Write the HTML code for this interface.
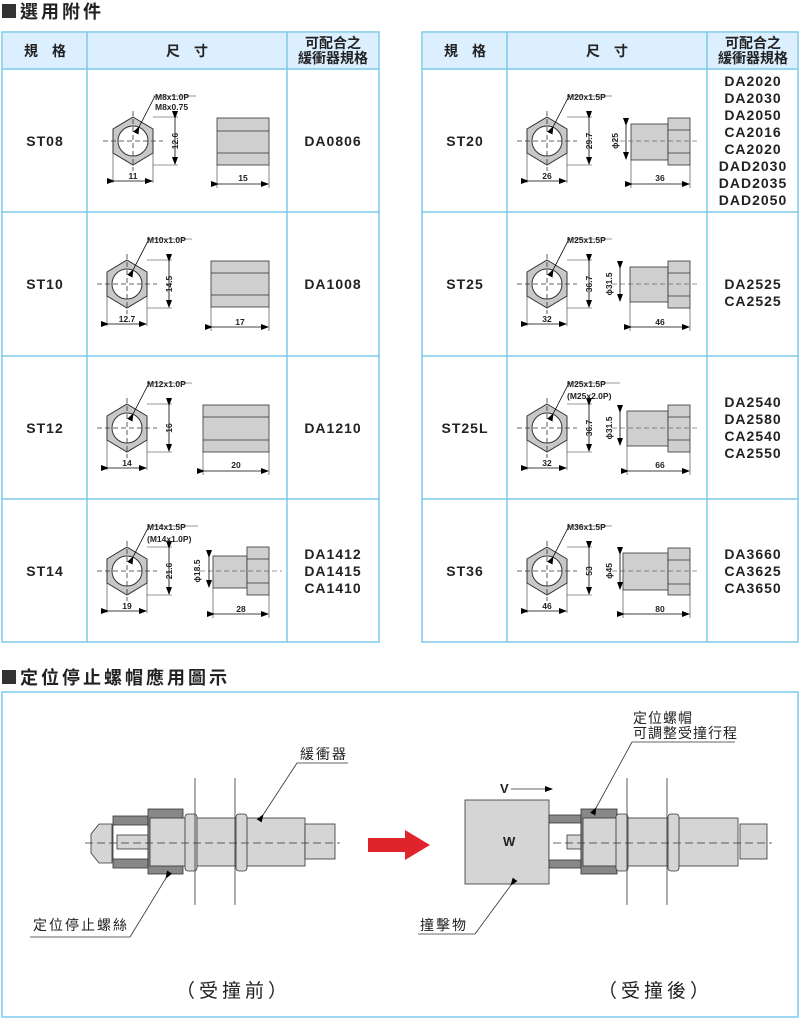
<!DOCTYPE html>
<html><head><meta charset="utf-8">
<style>
body{margin:0;background:#fff;}
svg{display:block;font-family:"Liberation Sans","Noto Sans CJK TC",sans-serif;}
.cj{font-family:"Liberation Sans","Noto Sans CJK TC",sans-serif;}
.b{font-weight:bold;}
</style></head><body>
<svg width="800" height="1019" viewBox="0 0 800 1019" xmlns="http://www.w3.org/2000/svg">
<defs>
<marker id="ar" markerWidth="8" markerHeight="6" refX="7" refY="3" orient="auto" markerUnits="userSpaceOnUse"><path d="M0,0 L8,3 L0,6z" fill="#000"/></marker>
<g id="hx">
<polygon points="0,-24 20,-12 20,12 0,24 -20,12 -20,-12" fill="#c8c8c8" stroke="#333" stroke-width="1"/>
<circle r="15" fill="#fff" stroke="#333" stroke-width="1"/>
<line x1="-30" y1="0" x2="30" y2="0" stroke="#333" stroke-width="0.8" stroke-dasharray="5,3"/>
<line x1="0" y1="-30" x2="0" y2="30" stroke="#333" stroke-width="0.8" stroke-dasharray="5,3"/>
<line x1="20" y1="-24" x2="45" y2="-24" stroke="#333" stroke-width="0.6"/>
<line x1="20" y1="24" x2="45" y2="24" stroke="#333" stroke-width="0.6"/>
<line x1="42" y1="-23" x2="42" y2="23" stroke="#000" stroke-width="0.8" marker-start="url(#ar)" marker-end="url(#ar)"/>
<line x1="-20" y1="12" x2="-20" y2="42" stroke="#333" stroke-width="0.6"/>
<line x1="20" y1="12" x2="20" y2="42" stroke="#333" stroke-width="0.6"/>
<line x1="-19" y1="40" x2="19" y2="40" stroke="#000" stroke-width="0.8" marker-start="url(#ar)" marker-end="url(#ar)"/>
<line x1="6" y1="-14" x2="22" y2="-45" stroke="#000" stroke-width="0.8" marker-start="url(#ar)"/>
</g>
</defs>

<!-- Title 1 -->
<rect x="2" y="4" width="14" height="14" fill="#333"/>
<text x="20" y="18" font-size="18" font-weight="bold" class="cj" fill="#222" letter-spacing="3">選用附件</text>

<!-- tables -->
<rect x="3" y="33" width="375" height="36" fill="#dcefff"/>
<rect x="423" y="33" width="374" height="36" fill="#dcefff"/>
<g stroke="#7cc9ea" stroke-width="1.5" fill="none">
<rect x="2" y="32" width="377" height="610"/>
<rect x="422" y="32" width="376" height="610"/>
</g>
<g stroke="#7cc9ea" stroke-width="1.5">
<line x1="2" y1="69" x2="379" y2="69"/><line x1="422" y1="69" x2="798" y2="69"/>
<line x1="2" y1="212" x2="379" y2="212"/><line x1="422" y1="212" x2="798" y2="212"/>
<line x1="2" y1="356" x2="379" y2="356"/><line x1="422" y1="356" x2="798" y2="356"/>
<line x1="2" y1="499" x2="379" y2="499"/><line x1="422" y1="499" x2="798" y2="499"/>
<line x1="87" y1="32" x2="87" y2="642"/><line x1="287" y1="32" x2="287" y2="642"/>
<line x1="507" y1="32" x2="507" y2="642"/><line x1="707" y1="32" x2="707" y2="642"/>
</g>
<g font-size="14" fill="#222" text-anchor="middle" class="cj" font-weight="bold">
<text x="45" y="56">規　格</text><text x="187" y="56">尺　寸</text>
<text x="333" y="48">可配合之</text><text x="333" y="63">緩衝器規格</text>
<text x="465" y="56">規　格</text><text x="607" y="56">尺　寸</text>
<text x="753" y="48">可配合之</text><text x="753" y="63">緩衝器規格</text>
</g>
<g font-size="14" font-weight="bold" fill="#222" text-anchor="middle" letter-spacing="1">
<text x="45" y="146">ST08</text><text x="45" y="289">ST10</text><text x="45" y="433">ST12</text><text x="45" y="576">ST14</text>
<text x="465" y="146">ST20</text><text x="465" y="289">ST25</text><text x="465" y="433">ST25L</text><text x="465" y="576">ST36</text>
<text x="333" y="146">DA0806</text><text x="333" y="289">DA1008</text><text x="333" y="433">DA1210</text>
<text x="333" y="559">DA1412</text><text x="333" y="576">DA1415</text><text x="333" y="593">CA1410</text>
<text x="753" y="86">DA2020</text><text x="753" y="103">DA2030</text><text x="753" y="120">DA2050</text><text x="753" y="137">CA2016</text><text x="753" y="154">CA2020</text><text x="753" y="171">DAD2030</text><text x="753" y="188">DAD2035</text><text x="753" y="205">DAD2050</text>
<text x="753" y="289">DA2525</text><text x="753" y="306">CA2525</text>
<text x="753" y="407">DA2540</text><text x="753" y="424">DA2580</text><text x="753" y="441">CA2540</text><text x="753" y="458">CA2550</text>
<text x="753" y="559">DA3660</text><text x="753" y="576">CA3625</text><text x="753" y="593">CA3650</text>
</g>

<!-- hexes -->
<use href="#hx" x="133" y="141"/><use href="#hx" x="127" y="284"/><use href="#hx" x="127" y="428"/><use href="#hx" x="127" y="571"/>
<use href="#hx" x="547" y="141"/><use href="#hx" x="547" y="284"/><use href="#hx" x="547" y="428"/><use href="#hx" x="547" y="571"/>

<g font-size="8.5" font-weight="bold" fill="#222">
<text x="155" y="100">M8x1.0P</text><text x="155" y="110">M8x0.75</text>
<line x1="153" y1="96" x2="196" y2="96" stroke="#333" stroke-width="0.6"/>
<text x="147" y="243">M10x1.0P</text><line x1="147" y1="239" x2="192" y2="239" stroke="#333" stroke-width="0.6"/>
<text x="147" y="387">M12x1.0P</text><line x1="147" y1="383" x2="192" y2="383" stroke="#333" stroke-width="0.6"/>
<text x="147" y="530">M14x1.5P</text><text x="147" y="542">(M14x1.0P)</text><line x1="147" y1="526" x2="198" y2="526" stroke="#333" stroke-width="0.6"/>
<text x="567" y="100">M20x1.5P</text><line x1="567" y1="96" x2="612" y2="96" stroke="#333" stroke-width="0.6"/>
<text x="567" y="243">M25x1.5P</text><line x1="567" y1="239" x2="612" y2="239" stroke="#333" stroke-width="0.6"/>
<text x="567" y="387">M25x1.5P</text><text x="567" y="399">(M25x2.0P)</text><line x1="567" y1="383" x2="620" y2="383" stroke="#333" stroke-width="0.6"/>
<text x="567" y="530">M36x1.5P</text><line x1="567" y1="526" x2="612" y2="526" stroke="#333" stroke-width="0.6"/>
<g text-anchor="middle">
<text x="133" y="179">11</text><text x="127" y="322">12.7</text><text x="127" y="466">14</text><text x="127" y="609">19</text>
<text x="547" y="179">26</text><text x="547" y="322">32</text><text x="547" y="466">32</text><text x="547" y="609">46</text>
<text x="243" y="181">15</text><text x="240" y="325">17</text><text x="236" y="468">20</text><text x="241" y="612">28</text>
<text x="660" y="181">36</text><text x="660" y="325">46</text><text x="660" y="468">66</text><text x="660" y="612">80</text>
</g>
<text transform="translate(178,141) rotate(-90)" text-anchor="middle">12.6</text>
<text transform="translate(172,284) rotate(-90)" text-anchor="middle">14.5</text>
<text transform="translate(172,428) rotate(-90)" text-anchor="middle">16</text>
<text transform="translate(172,571) rotate(-90)" text-anchor="middle">21.6</text>
<text transform="translate(592,141) rotate(-90)" text-anchor="middle">29.7</text>
<text transform="translate(592,284) rotate(-90)" text-anchor="middle">36.7</text>
<text transform="translate(592,428) rotate(-90)" text-anchor="middle">36.7</text>
<text transform="translate(592,571) rotate(-90)" text-anchor="middle">53</text>
<text transform="translate(200,571) rotate(-90)" text-anchor="middle">ϕ18.5</text>
<text transform="translate(618,141) rotate(-90)" text-anchor="middle">ϕ25</text>
<text transform="translate(612,284) rotate(-90)" text-anchor="middle">ϕ31.5</text>
<text transform="translate(612,428) rotate(-90)" text-anchor="middle">ϕ31.5</text>
<text transform="translate(612,571) rotate(-90)" text-anchor="middle">ϕ45</text>
</g>

<g fill="#cfcfcf" stroke="#333" stroke-width="0.8">
<rect x="217" y="118" width="52" height="47"/><line x1="217" y1="131" x2="269" y2="131"/><line x1="217" y1="153" x2="269" y2="153"/>
<rect x="211" y="261" width="58" height="46"/><line x1="211" y1="273" x2="269" y2="273"/><line x1="211" y1="295" x2="269" y2="295"/>
<rect x="203" y="405" width="66" height="47"/><line x1="203" y1="417" x2="269" y2="417"/><line x1="203" y1="440" x2="269" y2="440"/>
<rect x="213" y="556" width="34" height="32"/><rect x="247" y="547" width="22" height="48"/><line x1="247" y1="559" x2="269" y2="559"/><line x1="247" y1="583" x2="269" y2="583"/>
<rect x="631" y="124" width="37" height="36"/><rect x="668" y="118" width="22" height="47"/><line x1="668" y1="130" x2="690" y2="130"/><line x1="668" y1="153" x2="690" y2="153"/>
<rect x="630" y="267" width="38" height="35"/><rect x="668" y="261" width="22" height="47"/><line x1="668" y1="273" x2="690" y2="273"/><line x1="668" y1="296" x2="690" y2="296"/>
<rect x="627" y="411" width="41" height="35"/><rect x="668" y="405" width="22" height="47"/><line x1="668" y1="417" x2="690" y2="417"/><line x1="668" y1="440" x2="690" y2="440"/>
<rect x="623" y="553" width="45" height="37"/><rect x="668" y="548" width="22" height="47"/><line x1="668" y1="560" x2="690" y2="560"/><line x1="668" y1="584" x2="690" y2="584"/>
</g>
<g stroke="#333" stroke-width="0.6">
<line x1="217" y1="165" x2="217" y2="188"/><line x1="269" y1="165" x2="269" y2="188"/>
<line x1="211" y1="307" x2="211" y2="331"/><line x1="269" y1="307" x2="269" y2="331"/>
<line x1="203" y1="452" x2="203" y2="475"/><line x1="269" y1="452" x2="269" y2="475"/>
<line x1="213" y1="588" x2="213" y2="618"/><line x1="269" y1="595" x2="269" y2="618"/>
<line x1="631" y1="160" x2="631" y2="188"/><line x1="690" y1="165" x2="690" y2="188"/>
<line x1="630" y1="302" x2="630" y2="331"/><line x1="690" y1="308" x2="690" y2="331"/>
<line x1="627" y1="446" x2="627" y2="475"/><line x1="690" y1="452" x2="690" y2="475"/>
<line x1="623" y1="590" x2="623" y2="618"/><line x1="690" y1="595" x2="690" y2="618"/>
<line x1="200" y1="571" x2="282" y2="571" stroke-dasharray="5,3"/>
<line x1="612" y1="141" x2="700" y2="141" stroke-dasharray="5,3"/>
<line x1="612" y1="284" x2="700" y2="284" stroke-dasharray="5,3"/>
<line x1="612" y1="428" x2="700" y2="428" stroke-dasharray="5,3"/>
<line x1="612" y1="571" x2="700" y2="571" stroke-dasharray="5,3"/>
</g>
<g stroke="#000" stroke-width="0.8" marker-start="url(#ar)" marker-end="url(#ar)">
<line x1="218" y1="184" x2="268" y2="184"/><line x1="212" y1="327" x2="268" y2="327"/><line x1="204" y1="471" x2="268" y2="471"/><line x1="214" y1="614" x2="268" y2="614"/>
<line x1="632" y1="184" x2="689" y2="184"/><line x1="631" y1="327" x2="689" y2="327"/><line x1="628" y1="471" x2="689" y2="471"/><line x1="624" y1="614" x2="689" y2="614"/>
<line x1="209" y1="557" x2="209" y2="587"/><line x1="626" y1="125" x2="626" y2="159"/><line x1="620" y1="268" x2="620" y2="301"/><line x1="620" y1="412" x2="620" y2="445"/><line x1="620" y1="554" x2="620" y2="589"/>
</g>

<!-- Title 2 -->
<rect x="2" y="670" width="14" height="14" fill="#333"/>
<text x="20" y="684" font-size="18" font-weight="bold" class="cj" fill="#222" letter-spacing="3">定位停止螺帽應用圖示</text>
<rect x="2" y="692" width="796" height="325" fill="none" stroke="#7cc9ea" stroke-width="1.5"/>

<g stroke="#333" stroke-width="0.8">
<path d="M99,824 L112,824 L112,863 L99,863 L91,853 L91,834 Z" fill="#d5d5d5"/>
<rect x="113" y="816" width="35" height="52" fill="#888"/>
<rect x="113" y="825" width="35" height="34" fill="#fff"/>
<rect x="117" y="835" width="31" height="14" fill="#d5d5d5"/>
<rect x="148" y="809" width="35" height="65" fill="#888"/>
<rect x="150" y="818" width="155" height="48" fill="#d5d5d5"/>
<rect x="305" y="824" width="30" height="35" fill="#d5d5d5"/>
<rect x="185" y="814" width="12" height="57" rx="3" fill="#d5d5d5"/>
<rect x="236" y="814" width="11" height="57" rx="3" fill="#d5d5d5"/>
<line x1="195" y1="778" x2="195" y2="905"/><line x1="235" y1="778" x2="235" y2="905"/>
<line x1="85" y1="843" x2="340" y2="843" stroke-dasharray="8,4"/>
<line x1="263" y1="815" x2="297" y2="763" marker-start="url(#ar)"/>
<line x1="297" y1="763" x2="348" y2="763"/>
<line x1="166" y1="878" x2="130" y2="937" marker-start="url(#ar)"/>
<line x1="30" y1="937" x2="130" y2="937"/>
</g>
<text x="300" y="759" font-size="14" class="cj" fill="#222" letter-spacing="2">緩衝器</text>
<text x="33" y="930" font-size="14" class="cj" fill="#222" letter-spacing="2">定位停止螺絲</text>
<text x="176" y="997" font-size="19" class="cj" fill="#222" letter-spacing="4">（受撞前）</text>

<polygon points="368,838 405,838 405,830 430,845 405,860 405,852 368,852" fill="#e0242c"/>

<g stroke="#333" stroke-width="0.8">
<rect x="465" y="800" width="84" height="84" fill="#d5d5d5"/>
<rect x="549" y="815" width="32" height="53" fill="#888"/>
<rect x="549" y="823" width="32" height="37" fill="#fff"/>
<rect x="567" y="835" width="14" height="14" fill="#d5d5d5"/>
<rect x="581" y="809" width="36" height="65" fill="#888"/>
<rect x="583" y="818" width="155" height="48" fill="#d5d5d5"/>
<rect x="740" y="824" width="27" height="35" fill="#d5d5d5"/>
<rect x="616" y="814" width="12" height="57" rx="3" fill="#d5d5d5"/>
<rect x="668" y="814" width="11" height="57" rx="3" fill="#d5d5d5"/>
<line x1="627" y1="778" x2="627" y2="905"/><line x1="667" y1="778" x2="667" y2="905"/>
<line x1="553" y1="843" x2="772" y2="843" stroke-dasharray="8,4"/>
<line x1="596" y1="808" x2="632" y2="742" marker-start="url(#ar)"/>
<line x1="632" y1="742" x2="735" y2="742"/>
<line x1="511" y1="789" x2="552" y2="789" marker-end="url(#ar)"/>
<line x1="511" y1="885" x2="475" y2="934" marker-start="url(#ar)"/>
<line x1="418" y1="934" x2="475" y2="934"/>
</g>
<text x="503" y="846" font-size="13" font-weight="bold" fill="#222">W</text>
<text x="500" y="793" font-size="13" font-weight="bold" fill="#222">V</text>
<text x="633" y="723" font-size="14" class="cj" fill="#222" letter-spacing="1">定位螺帽</text>
<text x="633" y="738" font-size="14" class="cj" fill="#222" letter-spacing="1">可調整受撞行程</text>
<text x="420" y="930" font-size="14" class="cj" fill="#222" letter-spacing="2">撞擊物</text>
<text x="598" y="997" font-size="19" class="cj" fill="#222" letter-spacing="4">（受撞後）</text>
</svg>
</body></html>
